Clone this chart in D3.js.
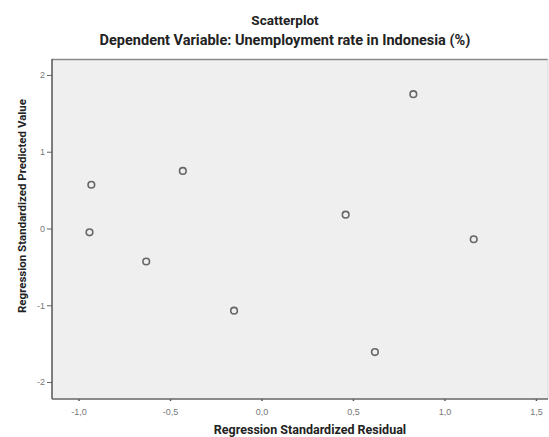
<!DOCTYPE html>
<html>
<head>
<meta charset="utf-8">
<script src="https://cdn.jsdelivr.net/npm/d3@7"></script>
<style>
  body { margin: 0; background: #fff; }
  svg { display: block; }
  .tick text { font-family: "Liberation Sans", Arial, sans-serif; font-size: 9px; fill: #777; }
  .ttl { font-family: Roboto, "Liberation Sans", sans-serif; font-weight: 700; fill: #222; }
</style>
</head>
<body>
<svg id="chart" width="549" height="437"></svg>
<script>
// residuals (x) vs predicted values (y)
var residuals = [-0.93, -0.94, -0.63, -0.43, -0.15, 0.46, 0.62, 0.83, 1.16];
var predicted = [0.57, -0.05, -0.43, 0.75, -1.07, 0.18, -1.61, 1.75, -0.14];
var xTicks = [-1.0, -0.5, 0.0, 0.5, 1.0, 1.5];
var yTicks = [-2, -1, 0, 1, 2];

var TITLE = "Scatterplot";
var SUBTITLE = "Dependent Variable: Unemployment rate in Indonesia (%)";
var X_LABEL = "Regression Standardized Residual";
var Y_LABEL = "Regression Standardized Predicted Value";

var PLOT_L = 52, PLOT_R = 548, PLOT_T = 59, PLOT_B = 399;

var svg = d3.select("#chart");

var x = d3.scaleLinear().domain([-1.145, 1.566]).range([PLOT_L, PLOT_R]);
var y = d3.scaleLinear().domain([-2.221, 2.208]).range([PLOT_B, PLOT_T]);

// plot background
svg.append("rect")
	.attr("x", PLOT_L)
	.attr("y", PLOT_T)
	.attr("width", PLOT_R - PLOT_L)
	.attr("height", PLOT_B - PLOT_T)
	.style("fill", "#efefef");

// top and right frame
svg.append("line")
	.attr("x1", PLOT_L).attr("x2", PLOT_R)
	.attr("y1", PLOT_T + 0.5).attr("y2", PLOT_T + 0.5)
	.style("stroke", "#8a8a8a").style("stroke-width", 1.5);
svg.append("line")
	.attr("x1", PLOT_R).attr("x2", PLOT_R)
	.attr("y1", PLOT_T).attr("y2", PLOT_B)
	.style("stroke", "#d8d8d8").style("stroke-width", 1);

// axes, hyphen minus like the original
var xAxis = d3.axisBottom(x)
	.tickValues(xTicks)
	.tickSize(2)
	.tickPadding(8)
	.tickFormat(function(d) { return d.toFixed(1).replace(".", ","); });

var yAxis = d3.axisLeft(y)
	.tickValues(yTicks)
	.tickSize(5)
	.tickPadding(2)
	.tickFormat(function(d) { return "" + d; });

var gx = svg.append("g")
	.attr("transform", "translate(0," + PLOT_B + ")")
	.call(xAxis);
gx.select(".domain").remove();
gx.selectAll(".tick line").style("stroke", "#555").style("stroke-width", 1.5);

var gy = svg.append("g")
	.attr("transform", "translate(" + PLOT_L + ",0)")
	.call(yAxis);
gy.select(".domain").remove();
gy.selectAll(".tick line").style("stroke", "#666");

// left and bottom frame
svg.append("line")
	.attr("x1", PLOT_L).attr("x2", PLOT_L)
	.attr("y1", PLOT_T).attr("y2", PLOT_B)
	.style("stroke", "#555").style("stroke-width", 1.5);
svg.append("line")
	.attr("x1", PLOT_L).attr("x2", PLOT_R)
	.attr("y1", PLOT_B).attr("y2", PLOT_B)
	.style("stroke", "#666").style("stroke-width", 1.5);

// points
svg.selectAll("circle.pt")
	.data(d3.zip(residuals, predicted))
	.enter().append("circle")
	.attr("class", "pt")
	.attr("cx", function(d) { return x(d[0]); })
	.attr("cy", function(d) { return y(d[1]); })
	.attr("r", 3.3)
	.style("fill", "none")
	.style("stroke", "#666")
	.style("stroke-width", 1.6);

// titles
svg.append("text").attr("class", "ttl")
	.attr("x", 285).attr("y", 25)
	.attr("text-anchor", "middle")
	.style("font-size", "13.5px")
	.text(TITLE);
svg.append("text").attr("class", "ttl")
	.attr("x", 285).attr("y", 45)
	.attr("text-anchor", "middle")
	.style("font-size", "14.5px")
	.text(SUBTITLE);

svg.append("text").attr("class", "ttl")
	.attr("x", 310).attr("y", 434)
	.attr("text-anchor", "middle")
	.style("font-size", "12.5px")
	.text(X_LABEL);

svg.append("text").attr("class", "ttl")
	.attr("transform", "translate(22,206) rotate(-90)")
	.attr("text-anchor", "middle")
	.attr("dy", "0.35em")
	.style("font-size", "11.5px")
	.text(Y_LABEL);
</script>
</body>
</html>
